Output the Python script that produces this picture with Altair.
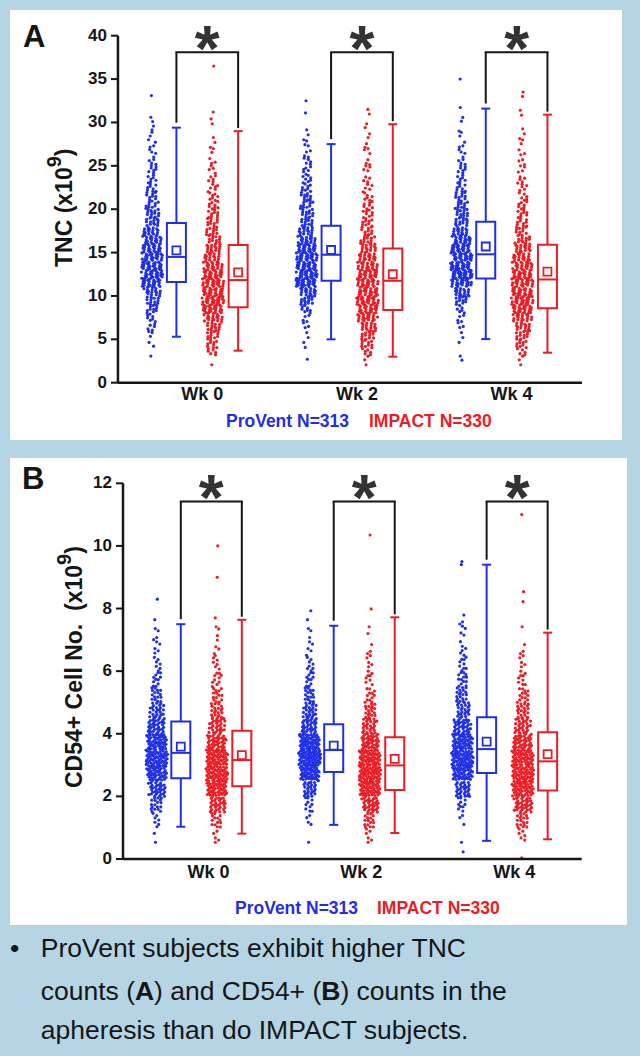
import altair as alt
import pandas as pd

# ---------------------------------------------------------------- data
WEEKS = ["Wk 0", "Wk 2", "Wk 4"]
SERIES = ["ProVent", "IMPACT"]
N_SUBJECTS = [313, 330]
TNC_TICKS = [0, 5, 10, 15, 20, 25, 30, 35, 40]
CD_TICKS = [0, 2, 4, 6, 8, 10, 12]

# TNC (x10^9): subjects per 1-unit bin, bins start at 0
TNC_BIN = 1.0
tnc_provent_wk0 = [0, 0, 0, 1, 2, 3, 5, 7, 10, 13, 17, 25, 27, 28, 25, 24, 21, 18, 14, 13, 10, 9, 8, 7, 6, 5, 4, 3, 3, 2]
tnc_provent_wk2 = [0, 0, 0, 0, 2, 2, 3, 4, 8, 14, 20, 30, 28, 28, 28, 25, 20, 17, 12, 12, 11, 10, 8, 7, 6, 5, 4, 3, 2, 1]
tnc_provent_wk4 = [0, 0, 0, 1, 1, 2, 3, 4, 6, 11, 18, 26, 30, 29, 28, 26, 22, 18, 14, 12, 11, 10, 8, 7, 6, 5, 4, 3, 2, 1, 2, 1]
tnc_impact_wk0 = [0, 0, 1, 6, 9, 11, 14, 20, 26, 27, 27, 26, 24, 21, 18, 16, 12, 11, 10, 9, 8, 7, 6, 5, 4, 3, 2, 2, 1, 1, 1]
tnc_impact_wk2 = [0, 0, 2, 7, 10, 13, 16, 22, 24, 26, 25, 24, 24, 22, 20, 16, 12, 10, 9, 8, 7, 6, 5, 4, 4, 3, 3, 2, 2, 2, 1]
tnc_impact_wk4 = [0, 0, 2, 6, 9, 12, 15, 20, 24, 26, 26, 25, 24, 22, 20, 17, 13, 10, 9, 8, 7, 6, 5, 5, 4, 3, 3, 2, 2, 1, 1, 1]
# isolated readings outside the dense part of each cloud
tnc_provent_far = [[33.1, 30.6, 30.1], [32.5, 31.1, 2.7], [35.0, 2.6]]
tnc_impact_far = [[36.5, 31.2], [31.5], [33.5, 33.0]]

# CD54+ cell no. (x10^9): subjects per 0.5-unit bin, bins start at 0
CD_BIN = 0.5
cd_provent_wk0 = [0, 2, 7, 18, 34, 46, 54, 46, 36, 25, 16, 11, 7, 5, 4, 1]
cd_provent_wk2 = [0, 1, 4, 10, 26, 50, 64, 54, 34, 25, 16, 11, 8, 5, 3, 2]
cd_provent_wk4 = [0, 1, 3, 10, 30, 48, 56, 48, 36, 24, 19, 13, 9, 6, 4, 3]
cd_impact_wk0 = [0, 5, 14, 32, 46, 52, 50, 40, 30, 20, 14, 10, 7, 4, 3, 1]
cd_impact_wk2 = [0, 6, 16, 34, 50, 56, 52, 40, 26, 18, 12, 8, 5, 3, 2, 1]
cd_impact_wk4 = [1, 6, 18, 36, 48, 50, 48, 40, 28, 20, 14, 9, 5, 3, 1]
cd_provent_far = [[8.3], [], [9.5, 9.4, 0.23]]
cd_impact_far = [[10.0, 9.0], [10.35], [11.0, 8.54, 8.22]]

# box summaries per week: whisker low, Q1, median, Q3, whisker high, mean
tnc_provent_box = {"lo": [5.3, 5.0, 5.03], "q1": [11.6, 11.75, 12.0], "med": [14.5, 14.75, 14.8],
                   "q3": [18.4, 18.1, 18.55], "hi": [29.4, 27.5, 31.6], "mean": [15.25, 15.3, 15.7]}
tnc_impact_box = {"lo": [3.69, 3.0, 3.46], "q1": [8.69, 8.37, 8.57], "med": [11.83, 11.75, 11.9],
                  "q3": [15.86, 15.48, 15.9], "hi": [29.0, 29.8, 30.9], "mean": [12.72, 12.5, 12.8]}
cd_provent_box = {"lo": [1.03, 1.09, 0.58], "q1": [2.58, 2.78, 2.75], "med": [3.39, 3.48, 3.51],
                  "q3": [4.39, 4.30, 4.53], "hi": [7.50, 7.45, 9.40], "mean": [3.59, 3.62, 3.75]}
cd_impact_box = {"lo": [0.81, 0.83, 0.63], "q1": [2.32, 2.20, 2.19], "med": [3.16, 2.99, 3.12],
                 "q3": [4.10, 3.89, 4.05], "hi": [7.64, 7.72, 7.23], "mean": [3.32, 3.20, 3.35]}

# axis titles: (text, superscript exponent, closing)
TITLE_A = ("TNC (x10", "9", ")")
TITLE_B = ("CD54+ Cell No.\u00a0 (x10", "9", ")")

SUMMARY_LINES = [
    "ProVent subjects exhibit higher TNC",
    ["counts (", "A", ") and CD54+ (", "B", ") counts in the"],
    "apheresis than do IMPACT subjects.",
]

# ---------------------------------------------------------------- style
BLUE = "#1f2fe6"
RED = "#ec1c24"
INK = "#161616"
BG = "#b5d5e5"
FONT = "Liberation Sans"

# advance widths (em) of Liberation Sans Bold, for chaining title pieces
BOLD_EM = {"T": .611, "N": .722, "C": .722, "D": .722, " ": .278, "\u00a0": .278, "(": .333,
           ")": .333, "x": .556, "e": .556, "l": .278, "o": .611, ".": .278, "+": .584}
for _d in "0123456789":
    BOLD_EM[_d] = .556


def bold_width(text, size):
    return sum(BOLD_EM.get(ch, .6) for ch in text) * size


SCATTER_SHIFT = {"ProVent": -0.28, "IMPACT": 0.114}
BOX_SHIFT = {"ProVent": -0.122, "IMPACT": 0.277}
R2_A, R2_B = 0.7548776662466927, 0.5698402909980532


def cloud_rows(counts, far, bin_w, week, series, centre, px_unit):
    """Spread each bin's subjects over the bin and a density-scaled strip."""
    rows = []
    peak = max(counts)
    g = 0
    for b, n in enumerate(counts):
        half = (1.2 + 9.8 * (n / peak) ** 0.65) / px_unit
        for _ in range(n):
            g += 1
            u = (0.5 + g * R2_A) % 1.0
            v = (0.5 + g * R2_B) % 1.0
            rows.append({"week": week, "series": series,
                         "x": centre + (2 * u - 1) * half, "v": (b + v) * bin_w})
    for val in far:
        g += 1
        u = (0.5 + g * R2_A) % 1.0
        rows.append({"week": week, "series": series,
                     "x": centre + (2 * u - 1) * 1.2 / px_unit, "v": val})
    return rows


def make_points(hists, fars, bin_w, px_unit):
    rows = []
    for s, series in enumerate(SERIES):
        for w, week in enumerate(WEEKS):
            centre = w + 0.5 + SCATTER_SHIFT[series]
            rows += cloud_rows(hists[s][w], fars[s][w], bin_w, week, series, centre, px_unit)
    return pd.DataFrame(rows)


def make_boxes(boxes, px_unit):
    rows = []
    for s, series in enumerate(SERIES):
        b = boxes[s]
        for w, week in enumerate(WEEKS):
            xc = w + 0.5 + BOX_SHIFT[series]
            row = {"series": series, "week": week, "xc": xc,
                   "xl": xc - 9.5 / px_unit, "xr": xc + 9.5 / px_unit,
                   "cl": xc - 4.5 / px_unit, "cr": xc + 4.5 / px_unit}
            row.update({k: b[k][w] for k in ("lo", "q1", "med", "q3", "hi", "mean")})
            rows.append(row)
    return pd.DataFrame(rows)


def make_brackets(boxes, top):
    rows = []
    for w, week in enumerate(WEEKS):
        xl = w + 0.5 + BOX_SHIFT["ProVent"]
        xr = w + 0.5 + BOX_SHIFT["IMPACT"]
        rows.append({"week": week, "xl": xl, "xr": xr, "xm": (xl + xr) / 2,
                     "yl": boxes[0]["hi"][w], "yr": boxes[1]["hi"][w], "top": top})
    return pd.DataFrame(rows)


one = alt.Chart(pd.DataFrame({"k": [0]}))


def rotated_title(parts, base_x, start_y, size=23, sup_size=20, sup_raise=11):
    """Vertical axis title reading bottom-to-top, with a raised exponent."""
    main, sup, close = parts
    pieces = [(main, size, base_x, start_y)]
    y = start_y - bold_width(main, size)
    pieces.append((sup, sup_size, base_x - sup_raise, y))
    y -= bold_width(sup, sup_size)
    pieces.append((close, size, base_x, y))
    return [one.mark_text(angle=270, align="left", baseline="alphabetic", font=FONT, fontSize=fs,
                          fontWeight="bold", color=INK).encode(
        x=alt.value(px), y=alt.value(py), text=alt.value(t)) for t, fs, px, py in pieces]


def panel(cfg, points, boxes, brackets):
    xs = alt.Scale(domain=cfg["xdom"], nice=False, zero=False)
    ys = alt.Scale(domain=cfg["ydom"], nice=False, zero=False)
    cs = alt.Scale(domain=SERIES, range=[BLUE, RED])
    col = alt.Color("series:N", scale=cs, legend=None)

    def X(f):
        return alt.X(f, type="quantitative", scale=xs, axis=None)

    def Y(f):
        return alt.Y(f, type="quantitative", scale=ys, axis=None)

    dots = alt.Chart(points).mark_circle(size=10, opacity=1).encode(x=X("x"), y=Y("v"), color=col)

    bb = alt.Chart(boxes)
    box = bb.mark_rect(filled=False, strokeWidth=2).encode(
        x=X("xl"), x2="xr:Q", y=Y("q1"), y2="q3:Q", color=col)
    wh_up = bb.mark_rule(strokeWidth=2).encode(x=X("xc"), y=Y("q3"), y2="hi:Q", color=col)
    wh_lo = bb.mark_rule(strokeWidth=2).encode(x=X("xc"), y=Y("lo"), y2="q1:Q", color=col)
    cap_hi = bb.mark_rule(strokeWidth=2).encode(x=X("cl"), x2="cr:Q", y=Y("hi"), color=col)
    cap_lo = bb.mark_rule(strokeWidth=2).encode(x=X("cl"), x2="cr:Q", y=Y("lo"), color=col)
    med = bb.mark_rule(strokeWidth=2).encode(x=X("xl"), x2="xr:Q", y=Y("med"), color=col)
    mean = bb.mark_point(shape="square", filled=False, size=64, strokeWidth=1.8, opacity=1).encode(
        x=X("xc"), y=Y("mean"), color=col)

    kb = alt.Chart(brackets)
    k_left = kb.mark_rule(strokeWidth=2, color=INK, yOffset=-5).encode(x=X("xl"), y=Y("yl"), y2="top:Q")
    k_right = kb.mark_rule(strokeWidth=2, color=INK, yOffset=-3).encode(x=X("xr"), y=Y("yr"), y2="top:Q")
    k_top = kb.mark_rule(strokeWidth=2, color=INK, strokeCap="square").encode(x=X("xl"), x2="xr:Q", y=Y("top"))
    star = kb.mark_text(text="*", font=FONT, fontSize=64, fontWeight="bold", color="#333333",
                        baseline="alphabetic", dy=19).encode(x=X("xm"), y=Y("top"))

    # axis frame, ticks and labels
    ticks = alt.Chart(pd.DataFrame({"t": cfg["yticks"], "x0": 0.0,
                                    "lab": [str(t) for t in cfg["yticks"]]}))
    tick_marks = ticks.mark_rule(strokeWidth=2, color=INK, xOffset=-7).encode(
        x=X("x0"), x2="x0:Q", y=Y("t"))
    tick_labels = ticks.mark_text(align="right", baseline="middle", dx=-11, font=FONT,
                                  fontSize=17, fontWeight="bold", color=INK).encode(
        x=X("x0"), y=Y("t"), text="lab:N")
    frame = alt.Chart(pd.DataFrame({"x0": [0.0], "x1": [float(len(WEEKS))],
                                    "y0": [0.0], "y1": [float(cfg["yticks"][-1])]}))
    y_line = frame.mark_rule(strokeWidth=2.5, color=INK).encode(x=X("x0"), y=Y("y0"), y2="y1:Q")
    x_line = frame.mark_rule(strokeWidth=2.5, color=INK).encode(x=X("x0"), x2="x1:Q", y=Y("y0"))
    wk = alt.Chart(pd.DataFrame({"wk": WEEKS, "xc": [i + 0.5 for i in range(len(WEEKS))], "y0": 0.0}))
    wk_labels = wk.mark_text(align="center", baseline="middle", dx=cfg["xlaboff"], dy=cfg["xlabdy"],
                             font=FONT, fontSize=18, fontWeight="bold", color=INK).encode(
        x=X("xc"), y=Y("y0"), text="wk:N")

    y_title = rotated_title(cfg["ytitle"], *cfg["title_at"])
    legend = [
        one.mark_text(align="left", baseline="middle", font=FONT, fontSize=17.5, fontWeight="bold",
                      color=c).encode(x=alt.value(lx), y=alt.value(cfg["legend_y"]),
                                      text=alt.value(f"{s} N={n}"))
        for s, n, c, lx in zip(SERIES, N_SUBJECTS, [BLUE, RED], cfg["legend_x"])
    ]
    letter = one.mark_text(align="left", baseline="alphabetic", font=FONT, fontSize=31,
                           fontWeight="bold", color=INK).encode(
        x=alt.value(cfg["letter_xy"][0]), y=alt.value(cfg["letter_xy"][1]),
        text=alt.value(cfg["letter"]))

    return alt.layer(dots, box, wh_up, wh_lo, cap_hi, cap_lo, med, mean,
                     k_left, k_right, k_top, star, tick_marks, tick_labels, y_line, x_line,
                     wk_labels, *y_title, letter, *legend).properties(
        width=cfg["W"], height=cfg["H"], view=alt.ViewBackground(fill="white", strokeWidth=0))


PX_A = 154.67
PX_B = 152.9
cfg_a = dict(xdom=[-0.698, 3.259], ydom=[-6.605, 42.963], W=612, H=430,
             xlaboff=7, xlabdy=12, yticks=TNC_TICKS, ytitle=TITLE_A, title_at=(62, 257),
             legend_y=412, legend_x=[216, 359], letter="A", letter_xy=[13, 37])
cfg_b = dict(xdom=[-0.739, 3.296], ydom=[-2.108, 12.808], W=617, H=467,
             xlaboff=9, xlabdy=14, yticks=CD_TICKS, ytitle=TITLE_B, title_at=(72, 330),
             legend_y=451, legend_x=[225, 367], letter="B", letter_xy=[12, 31])

pts_a = make_points([[tnc_provent_wk0, tnc_provent_wk2, tnc_provent_wk4],
                     [tnc_impact_wk0, tnc_impact_wk2, tnc_impact_wk4]],
                    [tnc_provent_far, tnc_impact_far], TNC_BIN, PX_A)
pts_b = make_points([[cd_provent_wk0, cd_provent_wk2, cd_provent_wk4],
                     [cd_impact_wk0, cd_impact_wk2, cd_impact_wk4]],
                    [cd_provent_far, cd_impact_far], CD_BIN, PX_B)

chart_a = panel(cfg_a, pts_a, make_boxes([tnc_provent_box, tnc_impact_box], PX_A),
                make_brackets([tnc_provent_box, tnc_impact_box], 38.1))
chart_b = panel(cfg_b, pts_b, make_boxes([cd_provent_box, cd_impact_box], PX_B),
                make_brackets([cd_provent_box, cd_impact_box], 11.42))

# ---------------------------------------------------------------- summary text
NOTE_SIZE = 26.5


def words(text, x, y, bold=False, size=NOTE_SIZE):
    return one.mark_text(align="left", baseline="alphabetic", font=FONT, fontSize=size,
                         fontWeight="bold" if bold else "normal", color=INK).encode(
        x=alt.value(x), y=alt.value(y), text=alt.value(text))


line_y = [14, 57, 96]
seg_x = [30.7, 125.0, 144.1, 311.3, 330.4]
note_layers = [words("•", 0, 14), words(SUMMARY_LINES[0], 30.7, line_y[0]),
               words(SUMMARY_LINES[2], 30.7, line_y[2])]
for i, seg in enumerate(SUMMARY_LINES[1]):
    note_layers.append(words(seg, seg_x[i], line_y[1], bold=seg in ("A", "B")))

note = alt.layer(*note_layers).properties(
    width=630, height=113, view=alt.ViewBackground(fill=BG, strokeWidth=0))

chart = alt.vconcat(chart_a, chart_b, note, spacing=18, bounds="flush").properties(
    padding={"left": 10, "top": 10, "right": 0, "bottom": 0}, background=BG
).configure_view(strokeWidth=0)

chart.save("out.html", embed_options={"renderer": "svg", "actions": False})
